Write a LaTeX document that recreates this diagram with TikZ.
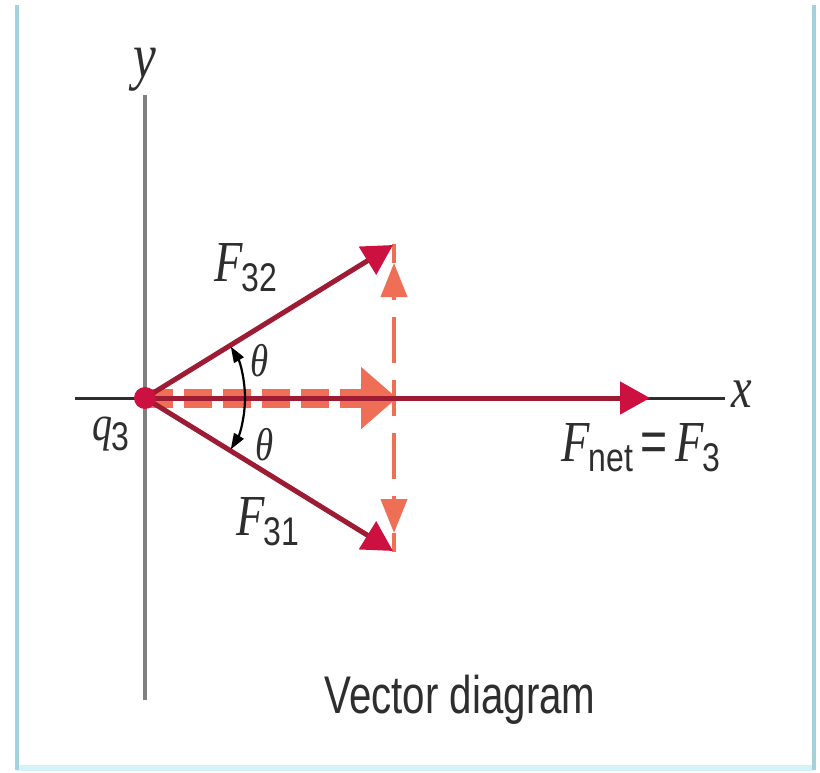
\documentclass[tikz,border=0pt]{standalone}
\usepackage{fontspec}
\setmainfont{Liberation Sans}
\newfontfamily\labelserif{Liberation Serif}
\usepackage{xcolor}
\definecolor{forcered}{HTML}{9E1B34}
\definecolor{tipred}{HTML}{CC1040}
\definecolor{comporange}{HTML}{EE6F55}
\definecolor{framecyan}{HTML}{A2D3DC}
\definecolor{framepale}{HTML}{D4F3F8}
\definecolor{axisgray}{HTML}{808080}
\definecolor{labelgray}{HTML}{2E2E2E}
\usepackage{tikz}
\usetikzlibrary{arrows.meta, positioning}
% italic symbol with a sans index below it
\newcommand{\vname}[2]{{\labelserif\itshape #1}\kern-2pt\raisebox{-10pt}{\fontsize{40}{40}\selectfont #2}}
\newcommand{\vsym}[1]{{\labelserif\itshape #1}}

\begin{document}
\begin{tikzpicture}[x=1pt, y=-1pt,
  force/.style={forcered, line width=5pt,
    -{Triangle[length=30pt, width=32pt, color=tipred]}},
  resultant/.style={comporange, line width=19pt, dash pattern=on 28pt off 11pt,
    -{Triangle[length=36pt, width=60pt]}},
  comp/.style={comporange, line width=4pt, dash pattern=on 46pt off 17pt, dash phase=28pt,
    -{Triangle[length=34pt, width=26pt]}},
  compline/.style={comporange, line width=4pt},
  anglemark/.style={black, line width=2.2pt, -{Triangle[length=16pt, width=11pt]}},
  lbl/.style={labelgray, inner sep=0pt, xscale=0.8, font=\fontsize{58}{58}\selectfont},
  caption/.style={labelgray, inner sep=0pt, xscale=0.76, font=\fontsize{53}{53}\selectfont}]
\useasboundingbox (0,0) rectangle (820,773);
\fill[white] (0,0) rectangle (820,773);

% Frame
\draw[framepale, line width=6pt] (17,768) -- (814,768);
\draw[framecyan, line width=4pt] (17,5) -- (17,770);
\draw[framecyan, line width=4pt] (814,5) -- (814,770);

% Points
\coordinate (q3) at (145,398);
\coordinate (t32) at (393,245);
\coordinate (t31) at (393,551);
\coordinate (tnet) at (650,398);
\coordinate (tres) at (397,398);
\coordinate (c0) at (394,398);
\coordinate (cup) at (394,263);
\coordinate (cdn) at (394,533);
\coordinate (ctop) at (394,244);
\coordinate (cbot) at (394,552);

% Axes
\coordinate (xl) at (75,398);
\coordinate (xr) at (725,398);
\coordinate (yt) at (145,95);
\coordinate (yb) at (145,700);
\draw[labelgray, line width=3pt] (xl) -- (xr);
\draw[axisgray, line width=3.5pt] (yt) -- (yb);
\node[lbl] (xlab) at (742,394) {\vsym{x}};
\node[lbl, font=\fontsize{64}{64}\selectfont] (ylab) at (145,70) {\vsym{y}};

% Components
\draw[resultant] (q3) -- (tres);
\draw[comp] (c0) -- (cup);
\draw[comp] (c0) -- (cdn);
\draw[compline] (cup) -- (ctop);
\draw[compline] (cdn) -- (cbot);

% Forces
\draw[force] (q3) -- (tnet);
\draw[force] (q3) -- (t32);
\draw[force] (q3) -- (t31);
\fill[tipred] (q3) circle (11pt);

% Angles
\coordinate (a0) at (245,398);
\draw[anglemark] (a0) arc[start angle=0, end angle=-31, radius=100];
\draw[anglemark] (a0) arc[start angle=0, end angle=31, radius=100];
\node[lbl, font=\fontsize{46}{46}\selectfont] (th32) at (260,361) {\vsym{θ}};
\node[lbl, font=\fontsize{46}{46}\selectfont] (th31) at (265,445) {\vsym{θ}};

% Labels
\node[lbl] (lF32) at (246,268) {\vname{F}{32}};
\node[lbl] (lF31) at (268,522) {\vname{F}{31}};
\node[lbl, font=\fontsize{50}{50}\selectfont] (lq3) at (111,434) {\vname{q}{3}};
\node[lbl] (lnet) at (641,448) {\vname{F}{net}\,=\,\vname{F}{3}};
\node[caption, anchor=base] (cap) at (460,713) {Vector diagram};
\end{tikzpicture}
\end{document}
